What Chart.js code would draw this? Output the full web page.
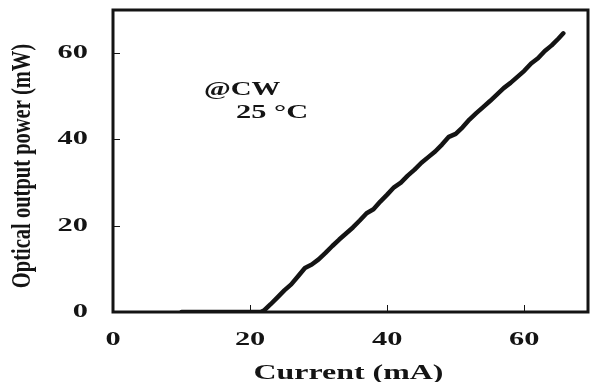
<!DOCTYPE html>
<html>
<head>
<meta charset="utf-8">
<title>L-I curve</title>
<script src="https://cdn.jsdelivr.net/npm/chart.js@4.4.1/dist/chart.umd.min.js"></script>
<style>
  html, body { margin: 0; padding: 0; background: #fff; }
  canvas { display: block; }
</style>
</head>
<body>
<canvas id="liChart" width="591" height="382"></canvas>
<script>
// data
var currents = [10, 12, 14, 16, 18, 20, 21.5, 22, 23, 24, 25, 26, 27, 28, 29, 30, 31, 32, 33, 34, 35, 36, 37, 38, 39, 40,
  41, 42, 43, 44, 45, 46, 47, 48, 49, 50, 51, 52, 53, 54, 55, 56, 57, 58, 59, 60, 61, 62, 63, 64, 65, 65.7];
var powers = [0, 0, 0, 0, 0, 0, 0, 0.3, 1.8, 3.4, 5.0, 6.4, 8.3, 10.2, 11.0, 12.2, 13.7, 15.3, 16.8, 18.2, 19.6, 21.2, 22.9, 23.8, 25.6, 27.2,
  28.9, 30.0, 31.6, 33.0, 34.6, 35.9, 37.2, 38.8, 40.6, 41.3, 42.8, 44.6, 46.1, 47.5, 48.9, 50.4, 51.9, 53.1, 54.5, 55.9, 57.6, 58.8, 60.5, 61.8, 63.4, 64.6];
var xTicks = [0, 20, 40, 60];
var yTicks = [0, 20, 40, 60];
var xTitle = 'Current (mA)';
var yTitle = 'Optical output power (mW)';
var notes = ['@CW', '25 °C'];

var ink = '#141414';
var serif = "'Liberation Serif', 'Times New Roman', serif";

// text in the figure is stretched sideways, draw it with a scale
function wideText(ctx, text, x, y, size, sx, align, baseline) {
  ctx.save();
  ctx.translate(x, y);
  ctx.scale(sx, 1);
  ctx.font = 'bold ' + size + 'px ' + serif;
  ctx.fillStyle = ink;
  ctx.textAlign = align;
  ctx.textBaseline = baseline;
  ctx.fillText(text, 0, 0);
  ctx.restore();
}

var framePlugin = {
  id: 'frame',
  beforeDatasetsDraw: function(chart) {
    var ctx = chart.ctx, a = chart.chartArea;
    var xs = chart.scales.x, ys = chart.scales.y;
    ctx.save();
    // inner tick marks
    ctx.strokeStyle = ink;
    ctx.lineWidth = 1;
    xs.ticks.forEach(function(t) {
      if (t.value === 0) return;
      var px = Math.round(xs.getPixelForValue(t.value)) + 0.5;
      ctx.beginPath();
      ctx.moveTo(px, a.bottom);
      ctx.lineTo(px, a.bottom - 7);
      ctx.stroke();
    });
    ys.ticks.forEach(function(t) {
      if (t.value === 0) return;
      var py = Math.round(ys.getPixelForValue(t.value)) + 0.5;
      ctx.beginPath();
      ctx.moveTo(a.left, py);
      ctx.lineTo(a.left + 7, py);
      ctx.stroke();
    });
    // box
    ctx.lineWidth = 3;
    ctx.strokeRect(a.left, a.top, a.right - a.left, a.bottom - a.top);
    ctx.restore();
  },
  afterDraw: function(chart) {
    var ctx = chart.ctx, a = chart.chartArea;
    var xs = chart.scales.x, ys = chart.scales.y;
    xs.ticks.forEach(function(t) {
      wideText(ctx, String(t.value), xs.getPixelForValue(t.value), 340, 19, 1.6, 'center', 'middle');
    });
    ys.ticks.forEach(function(t) {
      wideText(ctx, String(t.value), 88, ys.getPixelForValue(t.value), 19, 1.6, 'right', 'middle');
    });
    wideText(ctx, xTitle, (a.left + a.right) / 2 - 2, 379, 21, 1.52, 'center', 'alphabetic');
    wideText(ctx, notes[0], 204, 95, 18, 1.6, 'left', 'alphabetic');
    wideText(ctx, notes[1], 236, 118, 19, 1.6, 'left', 'alphabetic');
    // rotated y title
    ctx.save();
    ctx.translate(30, 166);
    ctx.rotate(-Math.PI / 2);
    ctx.scale(1, 1.3);
    ctx.font = 'bold 20.5px ' + serif;
    ctx.fillStyle = ink;
    ctx.textAlign = 'center';
    ctx.textBaseline = 'alphabetic';
    ctx.fillText(yTitle, 0, 0);
    ctx.restore();
  }
};

var hidden = {
  ticks: { display: false },
  grid: { display: false, drawTicks: false },
  border: { display: false },
  title: { display: false }
};

var liCanvas = document.getElementById('liChart');
let liChart = new Chart(liCanvas, {
  type: 'line',
  data: {
    datasets: [{
      data: currents.map(function(c, i) { return { x: c, y: powers[i] }; }),
      borderColor: ink,
      borderWidth: 4.5,
      borderCapStyle: 'round',
      borderJoinStyle: 'round',
      pointRadius: 0,
      tension: 0,
      fill: false
    }]
  },
  options: {
    responsive: false,
    animation: false,
    devicePixelRatio: 1,
    layout: { padding: { left: 113, right: 3, top: 10, bottom: 70 } },
    plugins: { legend: { display: false }, tooltip: { enabled: false } },
    scales: {
      x: Object.assign({
        type: 'linear', min: 0, max: 69.3,
        afterBuildTicks: function(s) { s.ticks = xTicks.map(function(v) { return { value: v }; }); }
      }, hidden),
      y: Object.assign({
        type: 'linear', min: 0, max: 70,
        afterBuildTicks: function(s) { s.ticks = yTicks.map(function(v) { return { value: v }; }); }
      }, hidden)
    }
  },
  plugins: [framePlugin]
});
</script>
</body>
</html>
